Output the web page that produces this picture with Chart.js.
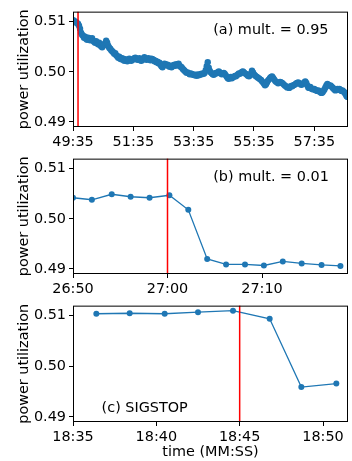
<!DOCTYPE html>
<html><head><meta charset="utf-8">
<script src="https://cdn.jsdelivr.net/npm/chart.js@4/dist/chart.umd.min.js"></script>
<style>
html,body{margin:0;padding:0;background:#fff;width:352px;height:461px;overflow:hidden}
canvas{position:absolute;left:0;display:block}
</style></head>
<body>
<canvas id="c1" width="352" height="147" style="top:0px"></canvas>
<canvas id="c2" width="352" height="147" style="top:147px"></canvas>
<canvas id="c3" width="352" height="167" style="top:294px"></canvas>
<script>
// ---- shared y axis ----
const yTicks = [0.49, 0.50, 0.51];
const yMin = 0.4890, yMax = 0.5120;

// ---- panel (a) mult. = 0.95 : samples every 2 s from 49:35 ----
const aStart = 2975;      // 49:35 in seconds
const aInterval = 2;      // seconds between samples
const aValues = [
 0.5103,0.5102,0.5100,0.5099,0.5097,0.5096,0.5092,0.5086,0.5078,0.5074,
 0.5072,0.5068,0.5070,0.5066,0.5064,0.5068,0.5067,0.5063,0.5065,0.5067,
 0.5062,0.5060,0.5058,0.5061,0.5057,0.5055,0.5058,0.5053,0.5051,0.5049,
 0.5052,0.5055,0.5057,0.5062,0.5058,0.5052,0.5048,0.5046,0.5043,0.5041,
 0.5039,0.5036,0.5037,0.5033,0.5031,0.5028,0.5030,0.5026,0.5025,0.5027,
 0.5024,0.5022,0.5025,0.5023,0.5021,0.5024,0.5026,0.5023,0.5022,0.5024,
 0.5025,0.5027,0.5028,0.5026,0.5024,0.5025,0.5027,0.5023,0.5022,0.5024,
 0.5026,0.5029,0.5027,0.5024,0.5025,0.5027,0.5025,0.5023,0.5026,0.5025,
 0.5024,0.5021,0.5022,0.5019,0.5020,0.5017,0.5018,0.5014,0.5011,0.5009,
 0.5013,0.5016,0.5015,0.5013,0.5014,0.5012,0.5010,0.5012,0.5009,0.5011,
 0.5013,0.5014,0.5012,0.5015,0.5014,0.5016,0.5012,0.5010,0.5009,0.5006,
 0.5004,0.5002,0.5000,0.4998,0.4999,0.4997,0.4995,0.4997,0.4996,0.4994,
 0.4995,0.4993,0.4994,0.4992,0.4995,0.4993,0.4994,0.4996,0.4995,0.4997,
 0.4996,0.4998,0.5003,0.5011,0.5019,0.5008,0.5002,0.4999,0.4997,0.4995,
 0.4994,0.4996,0.4998,0.4997,0.4999,0.5001,0.4999,0.4997,0.4995,0.4996,
 0.4998,0.4996,0.4993,0.4990,0.4987,0.4986,0.4988,0.4990,0.4987,0.4989,
 0.4990,0.4992,0.4991,0.4993,0.4995,0.4997,0.4996,0.4998,0.5000,0.5001,
 0.4999,0.4997,0.4996,0.4994,0.4992,0.4991,0.4993,0.4997,0.5002,0.4999,
 0.4995,0.4993,0.4991,0.4990,0.4988,0.4987,0.4985,0.4984,0.4981,0.4979,
 0.4976,0.4973,0.4975,0.4979,0.4983,0.4985,0.4988,0.4990,0.4991,0.4988,
 0.4985,0.4982,0.4980,0.4979,0.4977,0.4978,0.4980,0.4979,0.4978,0.4976,
 0.4974,0.4972,0.4971,0.4969,0.4970,0.4968,0.4970,0.4972,0.4971,0.4973,
 0.4974,0.4975,0.4977,0.4978,0.4979,0.4977,0.4976,0.4974,0.4975,0.4977,
 0.4979,0.4981,0.4978,0.4973,0.4969,0.4968,0.4970,0.4967,0.4966,0.4965,
 0.4966,0.4964,0.4963,0.4962,0.4963,0.4961,0.4960,0.4958,0.4959,0.4962,
 0.4965,0.4969,0.4973,0.4976,0.4974,0.4972,0.4973,0.4971,0.4969,0.4967,
 0.4965,0.4963,0.4965,0.4966,0.4964,0.4966,0.4964,0.4962,0.4963,0.4961,
 0.4959,0.4956,0.4952,0.4950
];
const aXMin = 2975, aXMax = 3522;
const aTicks = [2975, 3095, 3215, 3335, 3455];   // 49:35 ... 57:35
const aEvent = 2985;
const aLabel = '(a) mult. = 0.95';

// ---- panel (b) mult. = 0.01 ----
const bTimes = [1610.0,1612.0,1614.1,1616.1,1618.1,1620.2,1622.2,1624.2,1626.2,1628.2,1630.2,1632.2,1634.2,1636.3,1638.3];
const bValues = [0.5042,0.5038,0.5049,0.5044,0.5042,0.5047,0.5018,0.4920,0.4909,0.4909,0.4907,0.4915,0.4911,0.4908,0.4906];
const bXMin = 1610, bXMax = 1639.1;
const bTicks = [1610, 1620, 1630];   // 26:50, 27:00, 27:10
const bEvent = 1620;
const bLabel = '(b) mult. = 0.01';

// ---- panel (c) SIGSTOP ----
const cTimes = [1116.4,1118.4,1120.5,1122.5,1124.6,1126.8,1128.7,1130.8];
const cValues = [0.5104,0.5105,0.5104,0.5107,0.5110,0.5094,0.4959,0.4966];
const cXMin = 1115, cXMax = 1131.5;
const cTicks = [1115, 1120, 1125, 1130];   // 18:35 ... 18:50
const cEvent = 1125;
const cLabel = '(c) SIGSTOP';

// ---- styling ----
const FONT = 'DejaVu Sans';
const FS = 14.4;
const BLUE = '#1f77b4';
Chart.defaults.font.family = FONT;
Chart.defaults.font.size = FS;
Chart.defaults.color = '#000';

function mmss(v){
  const t = Math.round(v);
  const m = Math.floor(t/60), s = t%60;
  return String(m).padStart(2,'0') + ':' + String(s).padStart(2,'0');
}

const extras = {
  id: 'extras',
  afterDatasetsDraw(chart, args, opts){
    const {ctx, chartArea: a, scales} = chart;
    ctx.save();
    const px = scales.x.getPixelForValue(opts.eventX);
    ctx.strokeStyle = '#ff0000';
    ctx.lineWidth = 1.5;
    ctx.beginPath(); ctx.moveTo(px, a.top); ctx.lineTo(px, a.bottom); ctx.stroke();
    ctx.strokeStyle = '#000';
    ctx.lineWidth = 1;
    ctx.strokeRect(a.left + 0.5, a.top + 0.5, a.right - a.left - 1, a.bottom - a.top - 1);
    ctx.fillStyle = '#000';
    ctx.font = FS + 'px "' + FONT + '"';
    ctx.textAlign = 'left';
    ctx.textBaseline = 'middle';
    ctx.fillText(opts.text, a.left + opts.fx * (a.right - a.left), a.top + opts.fy * (a.bottom - a.top));
    ctx.restore();
  }
};

function makeChart(id, pts, xMin, xMax, xTicks, eventX, text, fx, fy, padTop, xHeight, xTitle, radius){
  return new Chart(document.getElementById(id), {
    type: 'line',
    data: { datasets: [{
      data: pts,
      borderColor: BLUE, backgroundColor: BLUE,
      borderWidth: 1.3, pointRadius: radius, pointBorderWidth: 0,
      pointBackgroundColor: BLUE, tension: 0, clip: 0
    }]},
    options: {
      responsive: false, animation: false,
      layout: { padding: { top: padTop, right: 1, left: 0, bottom: 0 } },
      plugins: { legend: {display:false}, tooltip: {enabled:false},
        extras: { eventX, text, fx, fy } },
      scales: {
        x: {
          type: 'linear', min: xMin, max: xMax,
          afterBuildTicks: s => { s.ticks = xTicks.map(v => ({value: v})); },
          afterFit: s => { s.height = xHeight; },
          ticks: { callback: v => mmss(v), maxRotation: 0, autoSkip: false, padding: 3, color: '#000' },
          grid: { drawOnChartArea: false, tickLength: 4, tickColor: '#000', tickWidth: 1 },
          border: { display: false },
          title: xTitle ? { display: true, text: xTitle, color: '#000', padding: {top: 0, bottom: 0}, font: {size: FS, lineHeight: 1.2} } : { display: false }
        },
        y: {
          min: yMin, max: yMax,
          afterBuildTicks: s => { s.ticks = yTicks.map(v => ({value: v})); },
          afterFit: s => { s.width = 73; },
          ticks: { callback: v => v.toFixed(2), padding: 3, color: '#000' },
          grid: { drawOnChartArea: false, tickLength: 4, tickColor: '#000', tickWidth: 1 },
          border: { display: false },
          title: { display: true, text: 'power utilization', color: '#000', padding: {top: 16, bottom: 0}, font: {size: FS, lineHeight: 1.2} }
        }
      }
    },
    plugins: [extras]
  });
}

const aPts = aValues.map((v, i) => ({ x: aStart + i * aInterval, y: v }));
const bPts = bValues.map((v, i) => ({ x: bTimes[i], y: v }));
const cPts = cValues.map((v, i) => ({ x: cTimes[i], y: v }));

makeChart('c1', aPts, aXMin, aXMax, aTicks, aEvent, aLabel, 0.51, 0.163, 4, 20, null, 3.2);
makeChart('c2', bPts, bXMin, bXMax, bTicks, bEvent, bLabel, 0.51, 0.164, 5, 20, null, 3);
makeChart('c3', cPts, cXMin, cXMax, cTicks, cEvent, cLabel, 0.104, 0.878, 5, 39, 'time (MM:SS)', 3);
</script>
</body></html>
